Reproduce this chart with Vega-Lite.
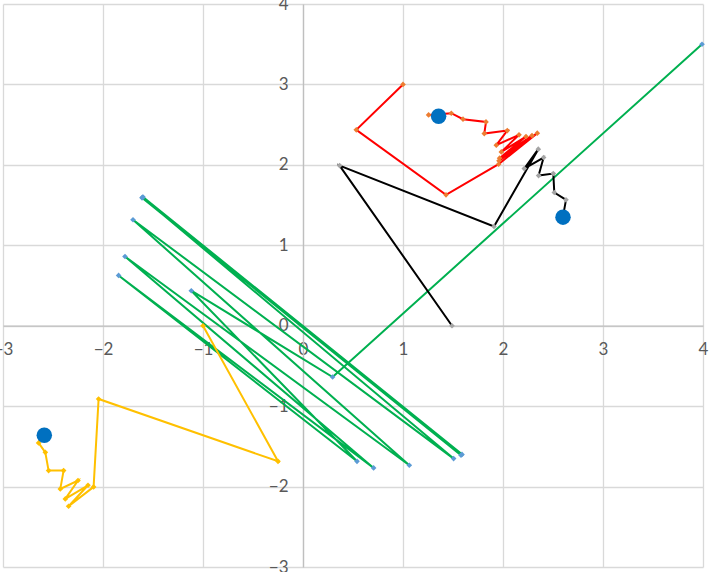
{
  "$schema": "https://vega.github.io/schema/vega-lite/v6.json",
  "width": 700,
  "height": 563,
  "autosize": "none",
  "padding": {"left": 3, "top": 4, "right": 7, "bottom": 5},
  "background": "white",
  "config": {"view": {"stroke": null}},
  "datasets": {
    "paths": [
      {"s": "g", "i": 0, "x": -1.6, "y": 1.6},
      {"s": "g", "i": 1, "x": 1.59, "y": -1.6},
      {"s": "g", "i": 2, "x": -1.61, "y": 1.59},
      {"s": "g", "i": 3, "x": 1.58, "y": -1.61},
      {"s": "g", "i": 4, "x": -1.605, "y": 1.595},
      {"s": "g", "i": 5, "x": 1.506, "y": -1.652},
      {"s": "g", "i": 6, "x": -1.7, "y": 1.317},
      {"s": "g", "i": 7, "x": 1.063, "y": -1.735},
      {"s": "g", "i": 8, "x": -1.78, "y": 0.861},
      {"s": "g", "i": 9, "x": 0.706, "y": -1.768},
      {"s": "g", "i": 10, "x": -1.844, "y": 0.625},
      {"s": "g", "i": 11, "x": 0.54, "y": -1.686},
      {"s": "g", "i": 12, "x": -1.117, "y": 0.435},
      {"s": "g", "i": 13, "x": 0.296, "y": -0.638},
      {"s": "g", "i": 14, "x": 3.99, "y": 3.5},
      {"s": "r", "i": 0, "x": 1.0, "y": 3.0},
      {"s": "r", "i": 1, "x": 0.533, "y": 2.435},
      {"s": "r", "i": 2, "x": 1.43, "y": 1.627},
      {"s": "r", "i": 3, "x": 1.956, "y": 2.008},
      {"s": "r", "i": 4, "x": 2.343, "y": 2.394},
      {"s": "r", "i": 5, "x": 1.96, "y": 2.05},
      {"s": "r", "i": 6, "x": 2.29, "y": 2.364},
      {"s": "r", "i": 7, "x": 1.966, "y": 2.083},
      {"s": "r", "i": 8, "x": 2.23, "y": 2.352},
      {"s": "r", "i": 9, "x": 1.983, "y": 2.161},
      {"s": "r", "i": 10, "x": 2.16, "y": 2.373},
      {"s": "r", "i": 11, "x": 1.933, "y": 2.245},
      {"s": "r", "i": 12, "x": 2.043, "y": 2.426},
      {"s": "r", "i": 13, "x": 1.813, "y": 2.389},
      {"s": "r", "i": 14, "x": 1.83, "y": 2.534},
      {"s": "r", "i": 15, "x": 1.6, "y": 2.568},
      {"s": "r", "i": 16, "x": 1.483, "y": 2.642},
      {"s": "r", "i": 17, "x": 1.256, "y": 2.621},
      {"s": "k", "i": 0, "x": 1.49, "y": 0.0},
      {"s": "k", "i": 1, "x": 0.366, "y": 1.991},
      {"s": "k", "i": 2, "x": 1.91, "y": 1.234},
      {"s": "k", "i": 3, "x": 2.353, "y": 2.195},
      {"s": "k", "i": 4, "x": 2.213, "y": 1.954},
      {"s": "k", "i": 5, "x": 2.406, "y": 2.091},
      {"s": "k", "i": 6, "x": 2.356, "y": 1.867},
      {"s": "k", "i": 7, "x": 2.503, "y": 1.892},
      {"s": "k", "i": 8, "x": 2.513, "y": 1.656},
      {"s": "k", "i": 9, "x": 2.63, "y": 1.565},
      {"s": "k", "i": 10, "x": 2.6, "y": 1.36},
      {"s": "y", "i": 0, "x": -1.0, "y": 0.0},
      {"s": "y", "i": 1, "x": -0.25, "y": -1.686},
      {"s": "y", "i": 2, "x": -2.044, "y": -0.911},
      {"s": "y", "i": 3, "x": -2.094, "y": -2.004},
      {"s": "y", "i": 4, "x": -2.344, "y": -2.245},
      {"s": "y", "i": 5, "x": -2.15, "y": -1.984},
      {"s": "y", "i": 6, "x": -2.377, "y": -2.153},
      {"s": "y", "i": 7, "x": -2.25, "y": -1.925},
      {"s": "y", "i": 8, "x": -2.427, "y": -2.029},
      {"s": "y", "i": 9, "x": -2.394, "y": -1.801},
      {"s": "y", "i": 10, "x": -2.544, "y": -1.801},
      {"s": "y", "i": 11, "x": -2.577, "y": -1.574},
      {"s": "y", "i": 12, "x": -2.644, "y": -1.457},
      {"s": "y", "i": 13, "x": -2.59, "y": -1.3}
    ],
    "roots": [
      {"x": 1.356, "y": 2.605},
      {"x": 2.6, "y": 1.35},
      {"x": -2.587, "y": -1.363}
    ]
  },
  "resolve": {"scale": {"color": "independent"}},
  "layer": [
    {
      "data": {"name": "paths"},
      "mark": {"type": "line", "strokeWidth": 2, "clip": true},
      "encoding": {
        "x": {
          "field": "x", "type": "quantitative",
          "scale": {"domain": [-3, 4], "nice": false, "zero": false},
          "axis": {
            "title": null, "values": [-3, -2, -1, 0, 1, 2, 3, 4], "offset": -241.29,
            "grid": true, "gridColor": "#D9D9D9", "gridWidth": 1.3,
            "domainColor": "#BFBFBF", "domainWidth": 1.3, "ticks": false,
            "labelFont": "Lato", "labelFontSize": 17, "labelColor": "#595959",
            "labelPadding": 16, "labelFlush": false, "labelOverlap": false, "format": "d"
          }
        },
        "y": {
          "field": "y", "type": "quantitative",
          "scale": {"domain": [-3, 4], "nice": false, "zero": false},
          "axis": {
            "title": null, "values": [-3, -2, -1, 0, 1, 2, 3, 4], "offset": -300,
            "grid": true, "gridColor": "#D9D9D9", "gridWidth": 1.3,
            "domainColor": "#BFBFBF", "domainWidth": 1.3, "ticks": false,
            "labelFont": "Lato", "labelFontSize": 17, "labelColor": "#595959",
            "labelPadding": 15, "labelFlush": false, "labelOverlap": false, "format": "d"
          }
        },
        "order": {"field": "i", "type": "quantitative"},
        "color": {
          "field": "s", "type": "nominal", "legend": null,
          "scale": {"domain": ["g", "k", "r", "y"], "range": ["#00B050", "#000000", "#FF0000", "#FFC000"]}
        }
      }
    },
    {
      "data": {"name": "paths"},
      "mark": {"type": "point", "shape": "diamond", "filled": true, "size": 32, "opacity": 1},
      "encoding": {
        "x": {"field": "x", "type": "quantitative"},
        "y": {"field": "y", "type": "quantitative"},
        "color": {
          "field": "s", "type": "nominal", "legend": null,
          "scale": {"domain": ["g", "k", "r", "y"], "range": ["#5B9BD5", "#A5A5A5", "#ED7D31", "#FFC000"]}
        }
      }
    },
    {
      "data": {"name": "roots"},
      "mark": {"type": "circle", "size": 240, "opacity": 1, "color": "#0070C0"},
      "encoding": {
        "x": {"field": "x", "type": "quantitative"},
        "y": {"field": "y", "type": "quantitative"}
      }
    }
  ]
}
